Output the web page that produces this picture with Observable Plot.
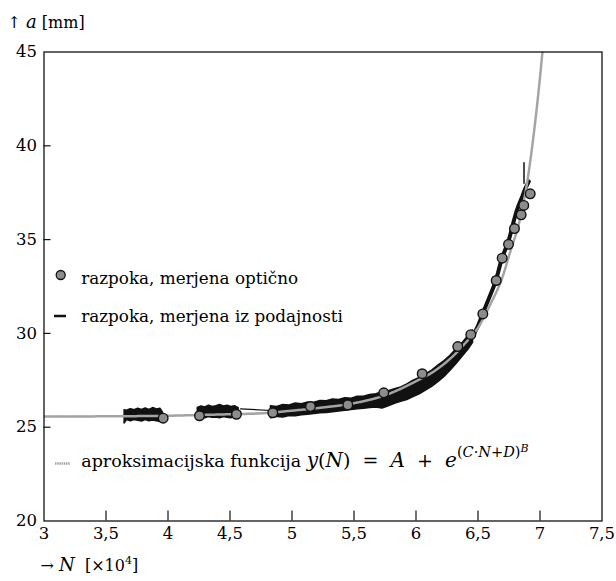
<!DOCTYPE html>
<html><head><meta charset="utf-8">
<script src="https://cdn.jsdelivr.net/npm/d3@7"></script>
<script src="https://cdn.jsdelivr.net/npm/@observablehq/plot@0.6"></script>
<style>body{margin:0;background:#fff}#chart svg{display:block}</style>
</head><body><div id="chart"></div>
<script>
// ---- data ----
const xTicks = [3, 3.5, 4, 4.5, 5, 5.5, 6, 6.5, 7, 7.5];
const yTicks = [20, 25, 30, 35, 40, 45];

// approximation function y(N) (grey curve)
const fitN = [3.0, 3.5, 4.0, 4.25, 4.5, 4.75, 5.0, 5.25, 5.5, 5.75, 6.0, 6.15, 6.3, 6.4, 6.5, 6.6, 6.7, 6.76, 6.83, 6.87, 6.9, 6.93, 6.96, 6.99, 7.02];
const fitA = [25.57, 25.58, 25.61, 25.65, 25.69, 25.74, 25.88, 26.05, 26.28, 26.7, 27.45, 28.0, 28.8, 29.5, 30.3, 31.55, 33.05, 34.35, 35.85, 37.05, 38.2, 39.6, 41.2, 43.0, 45.0];

// crack measured optically (circles)
const optN = [3.961, 4.254, 4.552, 4.845, 5.149, 5.45, 5.74, 6.05, 6.337, 6.442, 6.539, 6.647, 6.695, 6.746, 6.794, 6.848, 6.869, 6.921];
const optA = [25.48, 25.61, 25.69, 25.77, 26.10, 26.19, 26.83, 27.85, 29.30, 29.93, 31.04, 32.82, 34.01, 34.75, 35.59, 36.32, 36.82, 37.44];

// crack from compliance (black noisy band): segment 1
const c1N  = [3.65, 3.67, 3.70, 3.73, 3.76, 3.79, 3.82, 3.85, 3.88, 3.91, 3.94, 3.96];
const c1Lo = [25.20, 25.38, 25.32, 25.38, 25.34, 25.30, 25.38, 25.32, 25.36, 25.32, 25.28, 25.36];
const c1Hi = [25.90, 25.88, 25.96, 25.90, 25.98, 25.92, 26.00, 25.92, 26.02, 25.94, 25.98, 25.78];
// segment 2
const c2N  = [4.24, 4.27, 4.30, 4.33, 4.36, 4.39, 4.42, 4.45, 4.48, 4.51, 4.54, 4.57];
const c2Lo = [25.45, 25.52, 25.48, 25.54, 25.50, 25.52, 25.48, 25.54, 25.50, 25.48, 25.54, 25.56];
const c2Hi = [26.02, 26.10, 26.05, 26.15, 26.08, 26.12, 26.18, 26.10, 26.15, 26.08, 26.12, 26.02];
// segment 3 (wide band part)
const c3N  = [4.83, 4.88, 4.93, 4.98, 5.03, 5.08, 5.13, 5.18, 5.23, 5.28, 5.33, 5.38, 5.43, 5.48, 5.53, 5.58, 5.63, 5.68, 5.73, 5.78, 5.83, 5.88, 5.93, 5.98, 6.03, 6.08, 6.13, 6.18, 6.23, 6.28, 6.33, 6.38, 6.43, 6.46];
const c3Lo = [25.48, 25.55, 25.52, 25.60, 25.58, 25.64, 25.66, 25.70, 25.74, 25.76, 25.80, 25.84, 25.88, 25.92, 25.96, 25.98, 26.02, 26.05, 26.00, 26.12, 26.25, 26.35, 26.45, 26.60, 26.75, 26.95, 27.15, 27.40, 27.68, 28.02, 28.40, 28.80, 29.20, 29.50];
const c3Hi = [26.12, 26.08, 26.18, 26.16, 26.26, 26.22, 26.32, 26.30, 26.40, 26.38, 26.48, 26.45, 26.55, 26.52, 26.62, 26.62, 26.72, 26.76, 26.86, 26.92, 27.02, 27.12, 27.28, 27.48, 27.62, 27.82, 28.02, 28.28, 28.52, 28.82, 29.18, 29.52, 29.92, 30.15];
// segment 3 (steep, thick line part)
const c4N = [6.46, 6.5, 6.547, 6.59, 6.627, 6.66, 6.68, 6.71, 6.748, 6.77, 6.789, 6.81, 6.829, 6.857, 6.88, 6.91];
const c4A = [29.85, 30.4, 31.2, 31.9, 32.5, 33.2, 33.7, 34.3, 34.95, 35.5, 36.0, 36.5, 36.85, 37.3, 37.7, 38.1];
// thin connecting line between segment 2 and 3, and final spike
const linkN = [4.585, 4.83];
const linkA = [25.98, 25.89];
const spikeN = [6.871, 6.871];
const spikeA = [38.0, 39.1];

// ---- tables ----
const fit = fitN.map((n, i) => ({N: n, a: fitA[i]}));
const opt = optN.map((n, i) => ({N: n, a: optA[i]}));
const band = [
  ...c1N.map((n, i) => ({seg: 1, N: n, lo: c1Lo[i], hi: c1Hi[i]})),
  ...c2N.map((n, i) => ({seg: 2, N: n, lo: c2Lo[i], hi: c2Hi[i]})),
  ...c3N.map((n, i) => ({seg: 3, N: n, lo: c3Lo[i], hi: c3Hi[i]}))
];
const steep = c4N.map((n, i) => ({N: n, a: c4A[i]}));
const link = linkN.map((n, i) => ({N: n, a: linkA[i]}));
const spike = spikeN.map((n, i) => ({N: n, a: spikeA[i]}));

const W = 616, H = 581;
const mL = 43.5, mR = 14.5, mT = 51.5, mB = 60.5;
const FW = W - mL - mR, FH = H - mT - mB;
const font = "DejaVu Serif";
const fmt = d => String(d).replace(".", ",");
const FIT = "#a4a4a4";

const plot = Plot.plot({
  width: W, height: H,
  marginLeft: mL, marginRight: mR, marginTop: mT, marginBottom: mB,
  style: {fontFamily: font, fontSize: "16px", background: "#fff", color: "#000"},
  x: {domain: [3, 7.5], label: null},
  y: {domain: [20, 45], label: null},
  marks: [
    Plot.areaY(band, {x: "N", y1: "lo", y2: "hi", z: "seg", fill: "#111", stroke: "#111", strokeWidth: 1.5}),
    Plot.line(steep, {x: "N", y: "a", stroke: "#111", strokeWidth: 4}),
    Plot.line(link, {x: "N", y: "a", stroke: "#111", strokeWidth: 1.2}),
    Plot.line(spike, {x: "N", y: "a", stroke: "#111", strokeWidth: 1.5}),
    Plot.line(fit, {x: "N", y: "a", stroke: FIT, strokeWidth: 2.5, strokeDasharray: "1.5,0.7", curve: "monotone-x", clip: true}),
    Plot.dot(opt, {x: "N", y: "a", r: 4.8, fill: "#8c8c8c", stroke: "#111", strokeWidth: 1.4}),
    Plot.frame({stroke: "#111", strokeWidth: 1.3}),
    Plot.tickX(xTicks.slice(1, -1), {x: d => d, stroke: "#111", strokeWidth: 1.2, insetTop: FH - 10}),
    Plot.tickY(yTicks.slice(1, -1), {y: d => d, stroke: "#111", strokeWidth: 1.2, insetRight: FW - 7}),
    Plot.axisX({ticks: xTicks, tickSize: 0, tickPadding: 6, tickFormat: fmt, fontSize: 16.5, label: null}),
    Plot.axisY({ticks: yTicks, tickSize: 0, tickPadding: 7, tickFormat: fmt, fontSize: 16.5, label: null}),
    // titles & legend texts
    Plot.text(["↑ a [mm]"], {frameAnchor: "top-left", textAnchor: "start", lineAnchor: "middle", dx: -36.5, dy: -29.5, fontSize: 16}),
    Plot.text(["→ N [×104]"], {frameAnchor: "bottom-left", textAnchor: "start", lineAnchor: "middle", dx: -3.5, dy: 44.5, fontSize: 16}),
    Plot.text(["razpoka, merjena optično"], {frameAnchor: "top-left", textAnchor: "start", lineAnchor: "middle", dx: 37.2, dy: 226.5, fontSize: 16.8}),
    Plot.text(["razpoka, merjena iz podajnosti"], {frameAnchor: "top-left", textAnchor: "start", lineAnchor: "middle", dx: 37.2, dy: 264.5, fontSize: 16.8}),
    Plot.text(["aproksimacijska funkcija"], {frameAnchor: "top-left", textAnchor: "start", lineAnchor: "middle", dx: 37.2, dy: 409.5, fontSize: 17.5})
  ]
});
document.getElementById("chart").appendChild(plot);

// ---- rich text (italics, superscripts) ----
const svg = d3.select(plot);
function rich(match, parts) {
  svg.selectAll("text").filter(function() { return this.textContent === match; }).each(function() {
    const t = d3.select(this);
    t.text(null).attr("xml:space", "preserve").style("white-space", "pre");
    for (const p of parts) {
      const s = t.append("tspan").text(p.t);
      if (p.i) s.attr("font-style", "italic");
      if (p.fs) s.attr("font-size", p.fs);
      if (p.dy) s.attr("dy", p.dy);
    }
  });
}
rich("↑ a [mm]", [{t: "↑ "}, {t: "a", i: 1, fs: 18}, {t: " [mm]"}]);
rich("→ N [×104]", [{t: "→ "}, {t: "N", i: 1, fs: 18}, {t: "  [×10"}, {t: "4", fs: 11, dy: -7}, {t: "]", dy: 7}]);
rich("aproksimacijska funkcija", [
  {t: "aproksimacijska funkcija "}, {t: "y", i: 1, fs: 20}, {t: "(", fs: 19}, {t: "N", i: 1, fs: 20}, {t: ")  =  ", fs: 19},
  {t: "A", i: 1, fs: 20}, {t: "  +  ", fs: 19}, {t: "e", i: 1, fs: 20},
  {t: "(", fs: 14.5, dy: -10}, {t: "C", i: 1, fs: 14.5}, {t: "·", fs: 14.5}, {t: "N", i: 1, fs: 14.5}, {t: "+", fs: 14.5},
  {t: "D", i: 1, fs: 14.5}, {t: ")", fs: 14.5}, {t: "B", i: 1, fs: 11, dy: -5}
]);

// ---- legend symbols ----
const g = svg.append("g");
g.append("circle").attr("cx", 60.7).attr("cy", 275).attr("r", 4.5).attr("fill", "#8c8c8c").attr("stroke", "#111").attr("stroke-width", 1.3);
g.append("line").attr("x1", 54).attr("x2", 66).attr("y1", 316).attr("y2", 316).attr("stroke", "#111").attr("stroke-width", 2.5);
g.append("line").attr("x1", 55).attr("x2", 70).attr("y1", 463.5).attr("y2", 463.5).attr("stroke", FIT).attr("stroke-width", 2.5).attr("stroke-dasharray", "1.5,0.7");
</script>
</body></html>
